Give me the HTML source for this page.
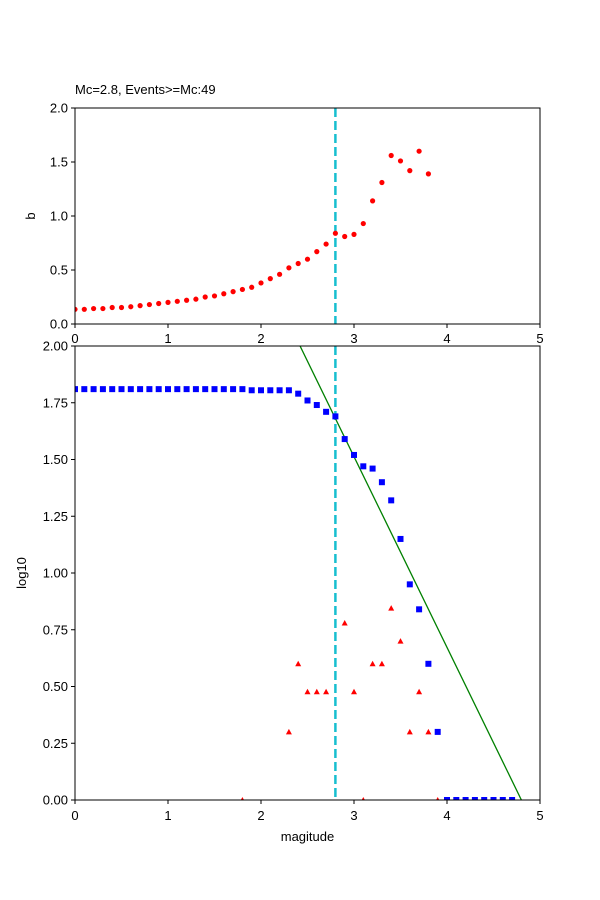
<!DOCTYPE html><html><head><style>body{margin:0;background:#fff}svg{display:block}text{font-family:"Liberation Sans","DejaVu Sans",sans-serif;font-size:13px;fill:#000}</style></head><body>
<svg id="s" width="600" height="900" xmlns="http://www.w3.org/2000/svg">
<defs><clipPath id="c1"><rect x="75" y="108" width="465" height="216"/></clipPath><clipPath id="c2"><rect x="75" y="346" width="465" height="454"/></clipPath></defs>
<rect width="600" height="900" fill="#fff"/>
<text x="75" y="94">Mc=2.8, Events&gt;=Mc:49</text>
<g id="gtop" clip-path="url(#c1)"></g>
<g id="gbot" clip-path="url(#c2)"></g>
<rect x="75" y="108" width="465" height="216" fill="none" stroke="#000" stroke-width="1"/>
<rect x="75" y="346" width="465" height="454" fill="none" stroke="#000" stroke-width="1"/>
<g id="gticks"></g>
<text transform="translate(35,216) rotate(-90)" text-anchor="middle">b</text>
<text transform="translate(26,573) rotate(-90)" text-anchor="middle">log10</text>
<text x="307.5" y="841" text-anchor="middle">magitude</text>
</svg>
<script>
(function(){
var NS="http://www.w3.org/2000/svg";
function el(p,t,a,txt){var e=document.createElementNS(NS,t);for(var k in a)e.setAttribute(k,a[k]);if(txt!==undefined)e.textContent=txt;p.appendChild(e);return e}
var X=function(m){return 75+m*93}, YT=function(v){return 324-v*108}, YB=function(v){return 800-v*227};
var gT=document.getElementById('gtop'),gB=document.getElementById('gbot'),tk=document.getElementById('gticks');
var b=[0.136,0.136,0.143,0.143,0.153,0.153,0.16,0.17,0.18,0.19,0.2,0.21,0.22,0.23,0.25,0.26,0.28,0.3,0.32,0.34,0.38,0.42,0.46,0.52,0.56,0.6,0.67,0.74,0.84,0.81,0.83,0.93,1.14,1.31,1.56,1.51,1.42,1.6,1.39];
el(gT,'line',{x1:X(2.8),y1:108,x2:X(2.8),y2:324,stroke:'#17becf','stroke-width':2.5,'stroke-dasharray':'9,4'});
b.forEach(function(v,i){el(gT,'circle',{cx:X(i*0.1),cy:YT(v),r:2.6,fill:'red'})});
var bl=[];for(var i=0;i<=18;i++)bl.push(1.81);
bl=bl.concat([1.805,1.805,1.805,1.805,1.805,1.79,1.76,1.74,1.71,1.69,1.59,1.52,1.47,1.46,1.40,1.32,1.15,0.95,0.84,0.60,0.30,0,0,0,0,0,0,0,0]);
el(gB,'line',{x1:X(2.8),y1:346,x2:X(2.8),y2:800,stroke:'#17becf','stroke-width':2.5,'stroke-dasharray':'9,4'});
el(gB,'line',{x1:X(2.42),y1:YB(2),x2:X(4.8),y2:YB(0),stroke:'green','stroke-width':1.3});
bl.forEach(function(v,i){el(gB,'rect',{x:X(i*0.1)-3,y:YB(v)-3,width:6,height:6,fill:'blue'})});
var tr=[[1.8,0],[2.3,0.3],[2.4,0.6],[2.5,0.477],[2.6,0.477],[2.7,0.477],[2.9,0.78],[3.0,0.477],[3.1,0],[3.2,0.6],[3.3,0.6],[3.4,0.845],[3.5,0.7],[3.6,0.3],[3.7,0.477],[3.8,0.3],[3.9,0]];
tr.forEach(function(p){var x=X(p[0]),y=YB(p[1]);el(gB,'polygon',{points:(x-3)+','+(y+2.5)+' '+(x+3)+','+(y+2.5)+' '+x+','+(y-3),fill:'red'})});
for(var i=0;i<=5;i++){var x=X(i);
 el(tk,'line',{x1:x,y1:324,x2:x,y2:328,stroke:'#000'});el(tk,'text',{x:x,y:343,'text-anchor':'middle'},String(i));
 el(tk,'line',{x1:x,y1:800,x2:x,y2:804,stroke:'#000'});el(tk,'text',{x:x,y:820,'text-anchor':'middle'},String(i));}
for(var i=0;i<=4;i++){var v=i*0.5,y=YT(v);el(tk,'line',{x1:71,y1:y,x2:75,y2:y,stroke:'#000'});el(tk,'text',{x:68,y:y+4.5,'text-anchor':'end'},v.toFixed(1));}
for(var i=0;i<=8;i++){var v=i*0.25,y=YB(v);el(tk,'line',{x1:71,y1:y,x2:75,y2:y,stroke:'#000'});el(tk,'text',{x:68,y:y+4.5,'text-anchor':'end'},v.toFixed(2));}
})();
</script></body></html>
